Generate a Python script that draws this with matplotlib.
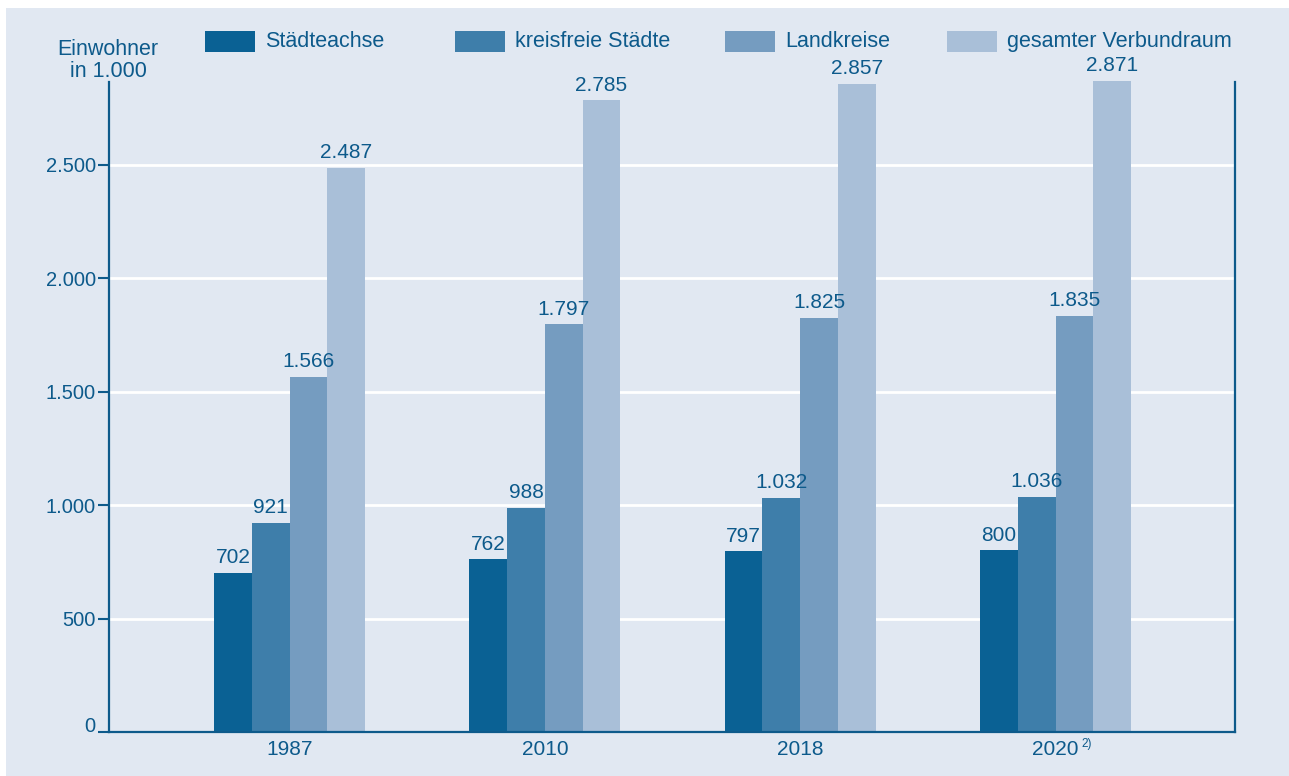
import numpy as np
import matplotlib
matplotlib.use("Agg")
import matplotlib.pyplot as plt
from matplotlib.patches import Rectangle
from matplotlib.transforms import ScaledTranslation

plt.rcParams['font.family'] = ['Liberation Sans', 'DejaVu Sans']

# ---- data ----
years = ["1987", "2010", "2018", "2020"]
series_names = ["Städteachse", "kreisfreie Städte", "Landkreise", "gesamter Verbundraum"]
staedteachse = [702, 762, 797, 800]
kreisfreie = [921, 988, 1032, 1036]
landkreise = [1566, 1797, 1825, 1835]
verbundraum = [2487, 2785, 2857, 2871]
y_ticks = [0, 500, 1000, 1500, 2000, 2500]
footnote_2020 = "2)"

series_values = [staedteachse, kreisfreie, landkreise, verbundraum]
colors = ["#0a6194", "#3e7eaa", "#759cc0", "#a9bfd8"]
txt = "#0d5a8b"
bg = "#e1e8f2"

W, H = 1289, 776
fig = plt.figure(figsize=(W / 100, H / 100), dpi=100)
fig.patch.set_facecolor("white")
fig.add_artist(Rectangle((6 / W, 0), 1 - 6 / W, (H - 8) / H, transform=fig.transFigure,
                         facecolor=bg, edgecolor="none", zorder=-10))

def fx(px):
    return px / W

def fy(py):
    return 1 - py / H

ax = fig.add_axes([fx(109), fy(732), fx(1235) - fx(109), fy(82) - fy(732)])
ax.set_facecolor("none")

x = np.arange(len(years))
w = 0.148
for i, (name, vals) in enumerate(zip(series_names, series_values)):
    bars = ax.bar(x + (i - 1.5) * w, vals, width=w, color=colors[i], label=name,
                  zorder=3, clip_on=False)
    lbls = ax.bar_label(bars, labels=[f"{v:,}".replace(",", ".") for v in vals],
                        padding=4, color=txt, fontsize=15)
    for t in lbls:
        t.set_zorder(10)
        t.set_annotation_clip(False)
        t.set_clip_on(False)

ax.set_xlim(-0.707, 3.703)
ax.set_ylim(0, 2865)
ax.set_yticks(y_ticks)
ax.set_yticklabels([f"{v:,}".replace(",", ".") for v in y_ticks])
ax.set_xticks(x)
ax.set_xticklabels(years)

ax.yaxis.grid(True, color="white", linewidth=2.0, zorder=0)
ax.xaxis.grid(False)
ax.set_axisbelow(True)

for s in ["left", "bottom", "right"]:
    ax.spines[s].set_color(txt)
    ax.spines[s].set_linewidth(1.6)
    ax.spines[s].set_zorder(5)
ax.spines["top"].set_visible(False)

ax.tick_params(axis="y", direction="out", length=8, width=1.5, color=txt,
               labelcolor=txt, labelsize=14.5, pad=1.5)
ax.tick_params(axis="x", length=0, labelcolor=txt, labelsize=15, pad=6)

# the "0" label sits slightly above its tick in the reference
zero_lbl = ax.get_yticklabels()[0]
zero_lbl.set_transform(zero_lbl.get_transform() + ScaledTranslation(0, 0.075, fig.dpi_scale_trans))

ax.annotate(footnote_2020, xy=(x[-1], 0), xycoords=("data", "axes fraction"),
            xytext=(18.5, -9), textcoords="offset points", ha="left", va="center",
            fontsize=8.5, color=txt, annotation_clip=False)

# y-axis title
fig.text(fx(108), fy(55), "Einwohner", ha="center", va="baseline", color=txt, fontsize=15.5)
fig.text(fx(108), fy(77), "in 1.000", ha="center", va="baseline", color=txt, fontsize=15.5)

# legend
patch_x = [205, 455, 725, 947]
for px, name, c in zip(patch_x, series_names, colors):
    fig.add_artist(Rectangle((fx(px), fy(52)), 50 / W, 21 / H, transform=fig.transFigure,
                             facecolor=c, edgecolor="none"))
    fig.text(fx(px + 60), fy(41.5), name, ha="left", va="center", color=txt, fontsize=15.5)

fig.savefig("out.png", dpi=100, facecolor=fig.get_facecolor())
